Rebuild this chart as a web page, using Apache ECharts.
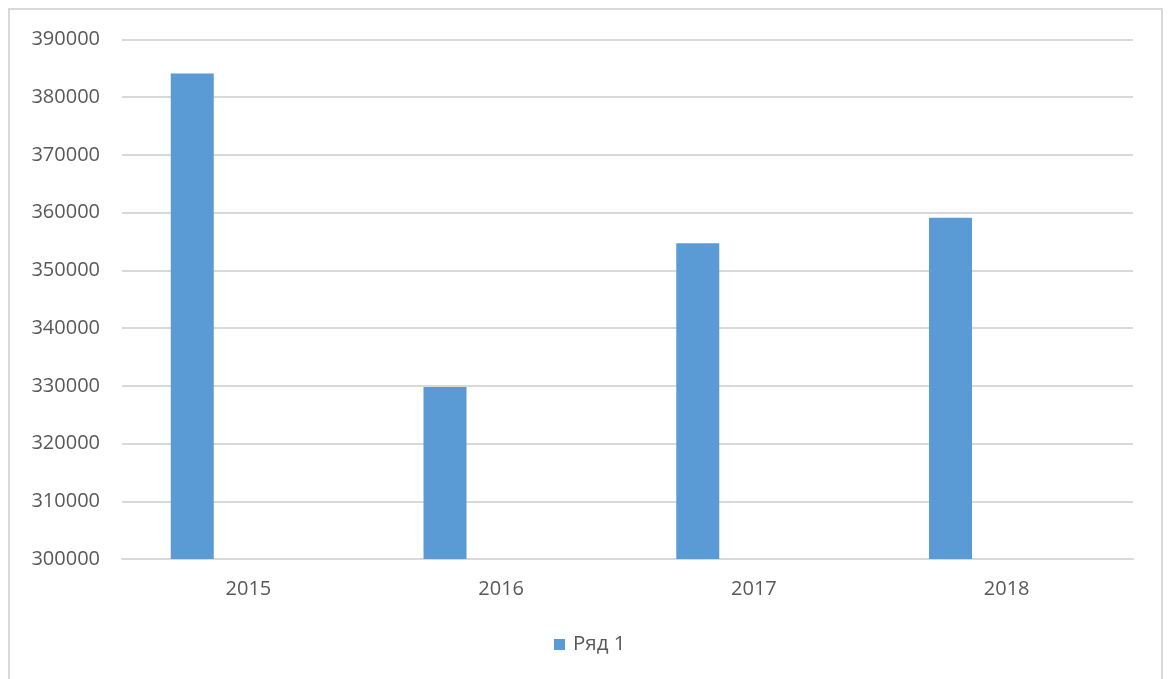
<!DOCTYPE html>
<html>
<head>
<meta charset="utf-8">
<script src="https://cdn.jsdelivr.net/npm/echarts@6/dist/echarts.min.js"></script>
<style>
html,body{margin:0;padding:0;background:#fff;}
#chart{width:1168px;height:679px;}
</style>
</head>
<body>
<div id="chart"></div>
<script>
const categories = ['2015', '2016', '2017', '2018'];
const seriesName = 'Ряд 1';
const values = [384100, 329800, 354700, 359100];
const emptyValues = [null, null, null, null];
const yMin = 300000;
const yMax = 390000;
const yStep = 10000;

const chart = echarts.init(document.getElementById('chart'), null, {renderer: 'canvas'});
const font = '"Open Sans", sans-serif';
chart.setOption({
  animation: false,
  backgroundColor: '#ffffff',
  graphic: [{
    type: 'rect',
    shape: {x: 9, y: 9, width: 1153, height: 690},
    style: {fill: 'none', stroke: '#d9d9d9', lineWidth: 2},
    silent: true
  }],
  grid: {left: 122, right: 35, top: 39.5, bottom: 120, containLabel: false},
  legend: {
    data: [seriesName],
    bottom: 19,
    left: 549,
    itemWidth: 11,
    itemHeight: 11,
    itemGap: 10,
    icon: 'rect',
    textStyle: {color: '#595959', fontSize: 20.5, fontFamily: font, padding: [0, 0, 0, 3]}
  },
  xAxis: {
    type: 'category',
    data: categories,
    axisLine: {show: true, lineStyle: {color: '#d9d9d9', width: 2}},
    axisTick: {show: false},
    axisLabel: {color: '#595959', fontSize: 20, fontFamily: font, margin: 20}
  },
  yAxis: {
    type: 'value',
    min: yMin,
    max: yMax,
    interval: yStep,
    axisLine: {show: false},
    axisTick: {show: false},
    splitLine: {lineStyle: {color: '#d9d9d9', width: 2}},
    axisLabel: {color: '#595959', fontSize: 20, fontFamily: font, margin: 22,
      formatter: function (v) { return String(v); }}
  },
  series: [
    {
      name: seriesName,
      type: 'bar',
      data: values,
      barWidth: 43,
      barGap: '161%',
      itemStyle: {color: '#5b9bd5'}
    },
    {
      name: 'empty',
      type: 'bar',
      data: emptyValues,
      barWidth: 43,
      itemStyle: {color: '#ed7d31'}
    }
  ]
});
</script>
</body>
</html>
